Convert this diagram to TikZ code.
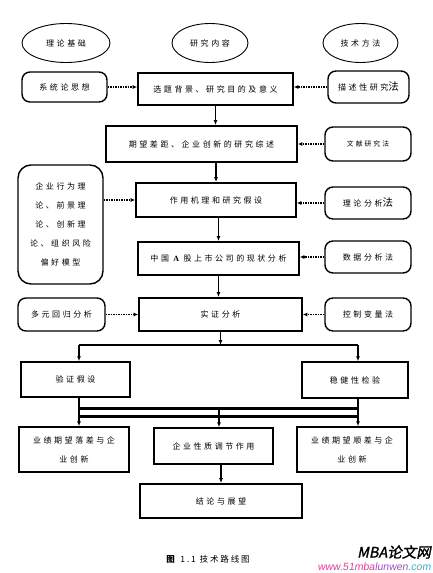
\documentclass[tikz,border=0pt]{standalone}
\usepackage{fontspec}
\setmainfont{Liberation Serif}
\newfontfamily\cjk[LetterSpace=32]{Noto Sans CJK SC}
\newfontfamily\cjksm[LetterSpace=30]{Noto Sans CJK SC}
\newfontfamily\capfont[LetterSpace=22]{Noto Sans CJK SC}
\newfontfamily\wmfont[FakeSlant=0.2,FakeBold=1.5]{Noto Sans CJK SC}
\newfontfamily\urlfont[FakeSlant=0.15]{Liberation Sans}
\usetikzlibrary{arrows.meta,shapes.geometric}
\definecolor{wmpink}{HTML}{E0409C}
\definecolor{wmpurple}{HTML}{A050C0}
\definecolor{wmcyan}{HTML}{30B0D8}
\newcommand{\bigfa}{{\fontsize{10.5}{12}\selectfont 法}}
\begin{document}
\begin{tikzpicture}[x=1pt,y=-1pt,
  txt/.style={font=\cjk\fontsize{8}{19}\selectfont, align=center, inner sep=0pt},
  mainbox/.style={txt, draw, line width=1.8pt},
  sidebox/.style={txt, draw, rounded corners=8pt, line width=1.4pt},
  plainbox/.style={txt, draw, line width=1.5pt},
  oval/.style={txt, ellipse, draw, line width=0.9pt},
  flow/.style={-{Latex[length=5pt,width=4pt]}, line width=1.1pt},
  dotarrow/.style={-{Latex[length=4.5pt,width=4.2pt]}, line width=1.6pt, dash pattern=on 1.6pt off 0.9pt},
  bar/.style={line width=3pt},
  hbar/.style={line width=1.5pt}]
\useasboundingbox (0,0) rectangle (433,573);

% headers
\node[oval, minimum width=88pt, minimum height=39pt] (e1) at (66,43) {理论基础};
\node[oval, minimum width=76pt, minimum height=39pt] (e2) at (210,43) {研究内容};
\node[oval, minimum width=75pt, minimum height=39pt] (e3) at (360.5,43) {技术方法};

% row 1
\node[sidebox, minimum width=85pt, minimum height=30pt] (sys) at (64.5,87) {系统论思想};
\node[mainbox, minimum width=155pt, minimum height=32pt] (m1) at (215.5,89) {选题背景、研究目的及意义};
\node[sidebox, minimum width=81pt, minimum height=32pt] (desc) at (368.5,87) {描述性研究\bigfa};

% row 2
\node[mainbox, minimum width=191pt, minimum height=36pt] (m2) at (201.5,144) {期望差距、企业创新的研究综述};
\node[sidebox, minimum width=86pt, minimum height=34pt, font=\cjksm\fontsize{6.8}{19}\selectfont] (lit) at (368,144) {文献研究法};

% row 3
\node[sidebox, rounded corners=13pt, minimum width=85pt, minimum height=119pt] (left) at (60.5,224.5) {企业行为理\\论、前景理\\论、创新理\\论、组织风险\\偏好模型};
\node[mainbox, minimum width=160pt, minimum height=34pt] (m3) at (216,200) {作用机理和研究假设};
\node[sidebox, minimum width=86pt, minimum height=32pt] (theory) at (368,203) {理论分析\bigfa};

% row 4
\node[mainbox, minimum width=161pt, minimum height=33pt] (m4) at (218.5,258.5) {中国 {\rmfamily\bfseries A} 股上市公司的现状分析};
\node[sidebox, minimum width=86pt, minimum height=32pt] (data) at (368,257) {数据分析法};

% row 5
\node[sidebox, minimum width=87pt, minimum height=33pt] (multi) at (61.5,314.5) {多元回归分析};
\node[mainbox, minimum width=163pt, minimum height=33pt] (m5) at (220.5,314.5) {实证分析};
\node[sidebox, minimum width=86pt, minimum height=33pt] (ctrl) at (368,314.5) {控制变量法};

% row 6
\node[plainbox, minimum width=109pt, minimum height=35pt] (verify) at (75.5,379.5) {验证假设};
\node[plainbox, minimum width=106pt, minimum height=36pt] (robust) at (355,380) {稳健性检验};

% row 7
\node[plainbox, minimum width=110pt, minimum height=45pt] (perf1) at (74,449.5) {业绩期望落差与企\\业创新};
\node[plainbox, minimum width=119pt, minimum height=36pt] (nature) at (213.5,446) {企业性质调节作用};
\node[plainbox, minimum width=110pt, minimum height=45pt] (perf2) at (352,449.5) {业绩期望顺差与企\\业创新};

% row 8
\node[mainbox, minimum width=162pt, minimum height=34pt] (concl) at (221,501) {结论与展望};

% caption and watermark
\node[font=\capfont\fontsize{8.5}{10}\selectfont, inner sep=0pt] (cap) at (208,559) {\textbf{图} 1.1 技术路线图};
\node[font=\wmfont\fontsize{14.5}{16}\selectfont, anchor=east, inner sep=0pt] (wm1) at (431,552) {MBA论文网};
\node[font=\urlfont\fontsize{10.5}{12}\selectfont, anchor=east, inner sep=0pt] (wm2) at (431,567) {\textcolor{wmpink}{www.51mba}\textcolor{wmpurple}{lunwen}\textcolor{wmcyan}{.com}};

% main flow
\draw[flow] (m1.south) -- (m1.south |- m2.north);
\draw[flow] (m3.north |- m2.south) -- (m3.north);
\draw[flow] (m4.north |- m3.south) -- (m4.north);
\draw[flow] (m4.south) -- (m4.south |- m5.north);

% dotted side arrows
\draw[dotarrow] (sys.east) -- (sys.east -| m1.west);
\draw[dotarrow] (desc.west) -- (desc.west -| m1.east);
\draw[dotarrow] (lit.west) -- (lit.west -| m2.east);
\draw[dotarrow] (left.east |- m3.west) -- (m3.west);
\draw[dotarrow] (theory.west) -- (theory.west -| m3.east);
\draw[dotarrow] (data.west) -- (data.west -| m4.east);
\draw[dotarrow] (multi.east) -- (multi.east -| m5.west);
\draw[dotarrow] (ctrl.west) -- (ctrl.west -| m5.east);

% branching
\coordinate (bl) at (79,345);
\coordinate (br) at (358,345);
\draw[flow] (m5.south) -- (m5.south |- bl);
\draw[hbar] (bl) -- (br);
\draw[flow] (bl) -- (bl |- verify.north);
\draw[flow] (br) -- (br |- robust.north);

\coordinate (l1) at (79,408);
\coordinate (r1) at (358,408);
\coordinate (l2) at (79,416);
\coordinate (r2) at (358,416);
\coordinate (mid) at (219,408);
\draw[flow] (l1 |- verify.south) -- (l1 |- perf1.north);
\draw[flow] (r1 |- robust.south) -- (r1 |- perf2.north);
\draw[bar] (l1) -- (r1);
\draw[bar] (l2) -- (r2);
\draw[flow] (mid) -- (mid |- nature.north);
\draw[flow] (concl.north |- nature.south) -- (concl.north);
\end{tikzpicture}
\end{document}
